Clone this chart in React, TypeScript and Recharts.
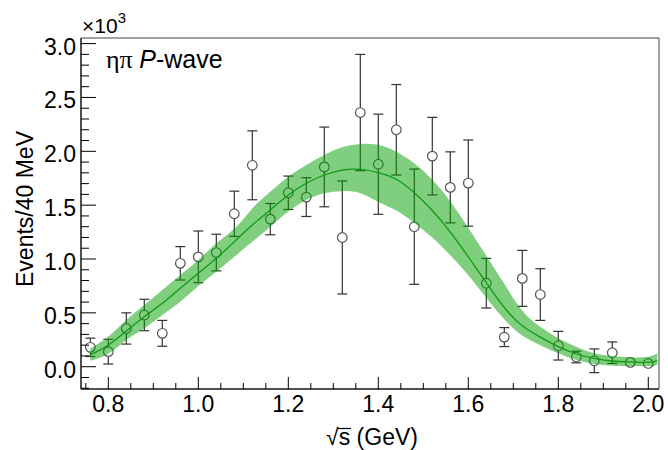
import React from "react";
import {
  ComposedChart,
  Area,
  Line,
  Scatter,
  ErrorBar,
  XAxis,
  YAxis,
  ReferenceArea,
} from "recharts";

// measured points (x10^3 events / 40 MeV)
const pointX = [
  0.76, 0.8, 0.84, 0.88, 0.92, 0.96, 1.0, 1.04, 1.08, 1.12, 1.16, 1.2, 1.24, 1.28, 1.32, 1.36,
  1.4, 1.44, 1.48, 1.52, 1.56, 1.6, 1.64, 1.68, 1.72, 1.76, 1.8, 1.84, 1.88, 1.92, 1.96, 2.0,
];
const pointY = [
  0.18, 0.14, 0.355, 0.48, 0.31, 0.96, 1.02, 1.06, 1.42, 1.87, 1.37, 1.615, 1.575, 1.855, 1.2, 2.36,
  1.88, 2.2, 1.3, 1.955, 1.665, 1.705, 0.775, 0.275, 0.82, 0.67, 0.195, 0.09, 0.055, 0.13, 0.04, 0.03,
];
const pointErr = [
  0.085, 0.115, 0.145, 0.146, 0.12, 0.155, 0.24, 0.17, 0.21, 0.32, 0.145, 0.155, 0.18, 0.37, 0.525, 0.54,
  0.465, 0.42, 0.535, 0.36, 0.33, 0.4, 0.23, 0.088, 0.26, 0.24, 0.133, 0.054, 0.11, 0.1, 0.015, 0.012,
];

// fit curve and its uncertainty band
const fitX = [
  0.76, 0.8, 0.84, 0.88, 0.92, 0.96, 1.0, 1.04, 1.08, 1.12, 1.16, 1.2, 1.24, 1.28, 1.32, 1.36,
  1.4, 1.44, 1.48, 1.52, 1.56, 1.6, 1.64, 1.68, 1.72, 1.76, 1.8, 1.84, 1.88, 1.92, 1.96, 2.0, 2.02,
];
const fitMid = [
  0.109, 0.2, 0.331, 0.464, 0.589, 0.728, 0.867, 1.006, 1.16, 1.316, 1.455, 1.594, 1.703, 1.78, 1.826, 1.833,
  1.803, 1.74, 1.615, 1.45, 1.25, 1.02, 0.78, 0.55, 0.38, 0.275, 0.186, 0.118, 0.078, 0.053, 0.044, 0.04, 0.056,
];
const fitLow = [
  0.056, 0.12, 0.248, 0.356, 0.48, 0.604, 0.749, 0.882, 1.02, 1.16, 1.3, 1.44, 1.548, 1.61, 1.63, 1.61,
  1.53, 1.45, 1.335, 1.2, 1.035, 0.85, 0.64, 0.44, 0.29, 0.2, 0.124, 0.062, 0.025, 0.009, 0.006, 0.006, 0.016,
];
const fitHigh = [
  0.17, 0.28, 0.434, 0.573, 0.712, 0.851, 0.99, 1.146, 1.28, 1.47, 1.625, 1.764, 1.873, 1.966, 2.037, 2.068,
  2.06, 1.996, 1.888, 1.735, 1.535, 1.29, 1.03, 0.77, 0.52, 0.37, 0.264, 0.186, 0.124, 0.099, 0.087, 0.093, 0.124,
];

const xTicks = [
  0.75, 0.8, 0.85, 0.9, 0.95, 1.0, 1.05, 1.1, 1.15, 1.2, 1.25, 1.3, 1.35, 1.4, 1.45, 1.5, 1.55,
  1.6, 1.65, 1.7, 1.75, 1.8, 1.85, 1.9, 1.95, 2.0,
];
const yTicks = [
  -0.2, -0.1, 0, 0.1, 0.2, 0.3, 0.4, 0.5, 0.6, 0.7, 0.8, 0.9, 1.0, 1.1, 1.2, 1.3, 1.4, 1.5, 1.6,
  1.7, 1.8, 1.9, 2.0, 2.1, 2.2, 2.3, 2.4, 2.5, 2.6, 2.7, 2.8, 2.9, 3.0,
];

const points = pointX.map((x, i) => ({ x, y: pointY[i], err: pointErr[i] }));
const fit = fitX.map((x, i) => ({ x, mid: fitMid[i], band: [fitLow[i], fitHigh[i]] }));

const FONT = "'Liberation Sans', Arial, Helvetica, sans-serif";
const W = 668;
const H = 450;

const isMultiple = (v: number, step: number) => Math.abs(v / step - Math.round(v / step)) < 1e-6;

const XTick = ({ x, y, payload }: any) => {
  const major = isMultiple(payload.value, 0.2);
  return (
    <g>
      <line x1={x} x2={x} y1={y} y2={y - (major ? 12 : 6)} stroke="#000" strokeWidth={1} />
      {major && (
        <text x={x} y={y + 23} textAnchor="middle" fontSize={23} fontFamily={FONT} fill="#000">
          {payload.value.toFixed(1)}
        </text>
      )}
    </g>
  );
};

const YTick = ({ x, y, payload }: any) => {
  const major = isMultiple(payload.value, 0.5);
  return (
    <g>
      <line x1={x} x2={x + (major ? 15 : 8)} y1={y} y2={y} stroke="#000" strokeWidth={1} />
      {major && (
        <text x={x - 5} y={y + 11} textAnchor="end" fontSize={23} fontFamily={FONT} fill="#000">
          {payload.value.toFixed(1)}
        </text>
      )}
    </g>
  );
};

const OpenCircle = ({ cx, cy }: any) => (
  <circle cx={cx} cy={cy} r={4.8} fill="#fff" stroke="#555" strokeWidth={1.2} />
);

export default function App() {
  return (
    <div style={{ position: "absolute", left: 0, top: 0, width: W, height: H, background: "#fff" }}>
      <ComposedChart width={W} height={H} margin={{ top: 38, right: 9, left: 0, bottom: 0 }}>
        <XAxis
          dataKey="x"
          type="number"
          domain={[0.7393, 2.0238]}
          allowDataOverflow
          ticks={xTicks}
          interval={0}
          height={61}
          tickSize={0}
          tickMargin={0}
          tickLine={false}
          tick={<XTick />}
          axisLine={{ stroke: "#000", strokeWidth: 1 }}
        />
        <YAxis
          type="number"
          domain={[-0.207, 3.052]}
          allowDataOverflow
          ticks={yTicks}
          interval={0}
          width={81}
          tickSize={0}
          tickMargin={0}
          tickLine={false}
          tick={<YTick />}
          axisLine={{ stroke: "#000", strokeWidth: 1 }}
        />
        <ReferenceArea
          x1={0.7393}
          x2={2.0238}
          y1={-0.207}
          y2={3.052}
          fill="none"
          stroke="#444"
          strokeWidth={1}
          ifOverflow="visible"
        />
        <Scatter data={points} dataKey="y" shape={<OpenCircle />} isAnimationActive={false}>
          <ErrorBar dataKey="err" direction="y" width={5} stroke="#333" strokeWidth={1.2} />
        </Scatter>
        <Area
          data={fit}
          dataKey="band"
          type="natural"
          stroke="none"
          fill="#00a000"
          fillOpacity={0.5}
          dot={false}
          activeDot={false}
          isAnimationActive={false}
          zIndex={700}
        />
        <Line
          data={fit}
          dataKey="mid"
          type="natural"
          stroke="#109a10"
          strokeWidth={1.3}
          dot={false}
          activeDot={false}
          isAnimationActive={false}
          zIndex={800}
        />
      </ComposedChart>
      <svg
        width={W}
        height={H}
        style={{ position: "absolute", left: 0, top: 0, pointerEvents: "none" }}
      >
        <text x={82} y={33} fontSize={21} fontFamily={FONT} fill="#000">
          ×10
          <tspan fontSize={15} dy={-10}>3</tspan>
        </text>
        <text x={106} y={68} fontSize={25} fill="#000">
          <tspan fontFamily="'Liberation Serif', 'Times New Roman', serif" fontSize={26}>ηπ </tspan>
          <tspan fontFamily={FONT} fontStyle="italic">P</tspan>
          <tspan fontFamily={FONT}>-wave</tspan>
        </text>
        <text x={372} y={445} textAnchor="middle" fontSize={23} fontFamily={FONT} fill="#000">
          √s (GeV)
        </text>
        <line x1={338} x2={351} y1={428.5} y2={428.5} stroke="#000" strokeWidth={1.2} />
        <text
          x={33}
          y={209}
          textAnchor="middle"
          fontSize={23}
          fontFamily={FONT}
          fill="#000"
          transform="rotate(-90 33 209)"
        >
          Events/40 MeV
        </text>
      </svg>
    </div>
  );
}
